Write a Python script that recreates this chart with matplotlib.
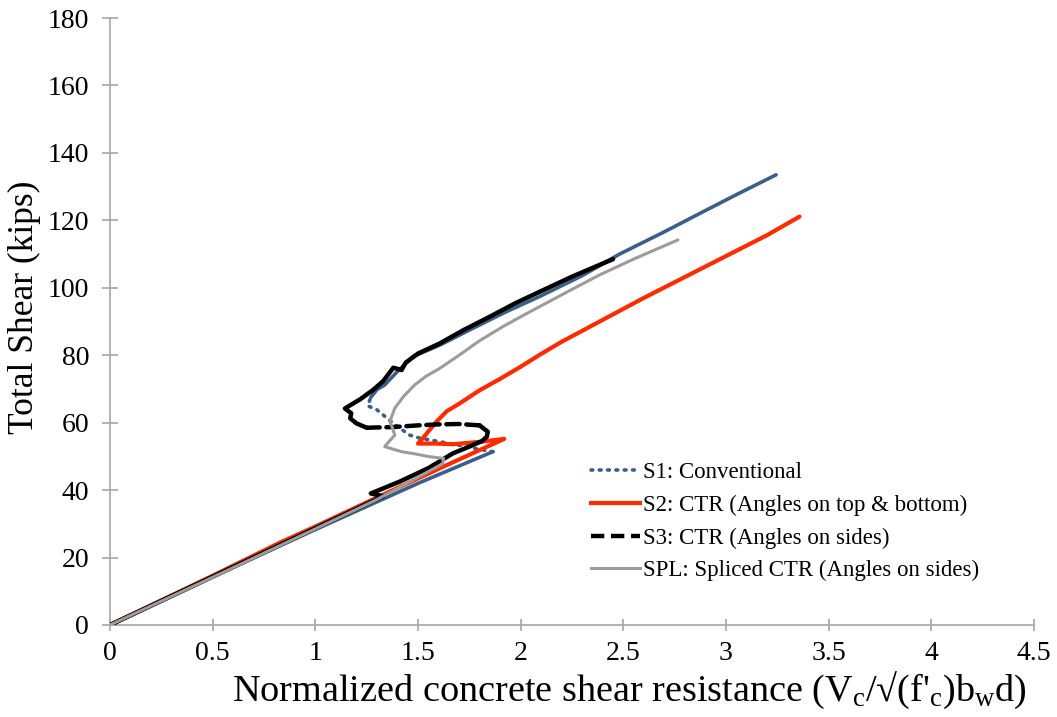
import matplotlib
matplotlib.use("Agg")
import matplotlib.pyplot as plt
from matplotlib.lines import Line2D

plt.rcParams['font.family'] = ['Liberation Serif', 'DejaVu Serif']
plt.rcParams['mathtext.fontset'] = 'custom'
plt.rcParams['mathtext.rm'] = 'Liberation Serif'
plt.rcParams['mathtext.it'] = 'Liberation Serif:italic'

# S1: Conventional
s1_x = [0, 0.5, 1.0, 1.5, 1.865,
        1.78, 1.71, 1.62, 1.51, 1.46, 1.39, 1.34, 1.30, 1.255,
        1.27, 1.30, 1.338, 1.40, 1.476, 1.606, 1.768, 1.93, 2.092, 2.30,
        2.482, 2.70, 2.871, 3.05, 3.244]
s1_y = [0, 14.3, 28.3, 42.0, 51.4,
        52.3, 53.2, 54.2, 55.4, 56.3, 59.3, 61.8, 63.8, 65.0,
        67.5, 69.8, 71.2, 75.2, 79.6, 83.0, 88.0, 92.9, 97.4, 103.6,
        110.0, 116.6, 122.0, 127.6, 133.5]
s1_jump = (4, 14)  # sparse span between the two branches

# S2: CTR (Angles on top & bottom)
s2_x = [0, 0.5, 0.83, 1.0, 1.3, 1.6, 1.92,
        1.80, 1.67, 1.58, 1.50,
        1.525, 1.549, 1.59, 1.64, 1.70, 1.80, 1.90, 2.00, 2.10, 2.20,
        2.40, 2.60, 2.80, 3.00, 3.20, 3.358]
s2_y = [0, 14.6, 24.5, 29.2, 37.8, 46.3, 55.2,
        54.3, 53.6, 53.8, 53.8,
        55.5, 57.3, 60.3, 63.4, 65.6, 69.6, 73.0, 76.6, 80.4, 84.0,
        90.5, 97.0, 103.2, 109.4, 115.6, 121.1]

# S3: CTR (Angles on sides)
s3_x = [0, 0.6, 1.0, 1.33, 1.27, 1.41, 1.55, 1.67, 1.75, 1.81, 1.835,
        1.84, 1.80, 1.70, 1.60, 1.50, 1.38, 1.25,
        1.20, 1.17, 1.175, 1.144, 1.16, 1.22, 1.281, 1.33, 1.38, 1.42,
        1.44, 1.50, 1.606, 1.72, 1.849, 1.97, 2.092, 2.25, 2.45]
s3_y = [0, 17.2, 28.7, 38.2, 39.0, 42.5, 46.5, 50.9, 52.9, 54.5, 55.8,
        57.3, 59.2, 59.6, 59.5, 59.2, 58.7, 58.5,
        59.8, 61.3, 62.8, 64.2, 64.8, 67.0, 69.7, 72.3, 76.3, 75.6,
        77.8, 80.5, 83.5, 87.4, 91.4, 95.3, 98.8, 103.3, 108.5]
s3_jump = (12, 17)

# SPL: Spliced CTR (Angles on sides)
spl_x = [0, 0.6, 1.0, 1.3, 1.62, 1.625, 1.557, 1.48, 1.419, 1.338,
         1.36, 1.387, 1.375, 1.363, 1.375, 1.387, 1.43, 1.484, 1.54,
         1.606, 1.70, 1.80, 1.914, 2.00, 2.092, 2.24, 2.384, 2.55, 2.766]
spl_y = [0, 17.0, 28.5, 37.2, 47.8, 49.4, 49.9, 50.8, 51.4, 52.9,
         54.5, 56.3, 58.5, 60.3, 62.3, 64.3, 67.8, 71.2, 73.8,
         76.1, 80.0, 84.3, 88.5, 91.4, 94.4, 99.2, 103.8, 108.5, 114.2]

x_ticks = [0, 0.5, 1, 1.5, 2, 2.5, 3, 3.5, 4, 4.5]
x_tick_labels = ['0', '0.5', '1', '1.5', '2', '2.5', '3', '3.5', '4', '4.5']
y_ticks = [0, 20, 40, 60, 80, 100, 120, 140, 160, 180]

labels = ['S1: Conventional',
          'S2: CTR (Angles on top & bottom)',
          'S3: CTR (Angles on sides)',
          'SPL: Spliced CTR (Angles on sides)']
c_s1, c_s2, c_s3, c_spl = '#3A5F8B', '#FF2A00', '#000000', '#9C9C9C'
lw_s1, lw_s2, lw_s3, lw_spl = 2.6, 3.0, 3.2, 2.2
dot_style = (0, (0.5, 1.8))
dash_style = (0, (3.0, 1.5))

fig = plt.figure(figsize=(10.57, 7.17), dpi=100)
ax = fig.add_axes([110 / 1057, 1 - 625 / 717, (1034 - 110) / 1057, (625 - 18) / 717])


def split_plot(xs, ys, span, color, lw, sparse_ls, z):
    a, b = span
    ax.plot(xs[:a + 1], ys[:a + 1], color=color, lw=lw,
            solid_capstyle='round', solid_joinstyle='round', zorder=z)
    ax.plot(xs[a:b + 1], ys[a:b + 1], color=color, lw=lw, ls=sparse_ls,
            dash_capstyle='round', zorder=z)
    ax.plot(xs[b:], ys[b:], color=color, lw=lw,
            solid_capstyle='round', solid_joinstyle='round', zorder=z)


split_plot(s1_x, s1_y, s1_jump, c_s1, lw_s1, dot_style, 2)
ax.plot(s2_x, s2_y, color=c_s2, lw=lw_s2, solid_capstyle='round',
        solid_joinstyle='round', zorder=3)
split_plot(s3_x, s3_y, s3_jump, c_s3, lw_s3, dash_style, 4)
ax.plot(spl_x, spl_y, color=c_spl, lw=lw_spl, solid_capstyle='round',
        solid_joinstyle='round', zorder=5)

ax.set_xlim(0, 4.5)
ax.set_ylim(0, 180)
ax.set_xticks(x_ticks)
ax.set_xticklabels(x_tick_labels)
ax.set_yticks(y_ticks)

for side in ('top', 'right'):
    ax.spines[side].set_visible(False)
for side in ('left', 'bottom'):
    ax.spines[side].set_color('#A6A6A6')
    ax.spines[side].set_linewidth(1.2)

ax.tick_params(axis='y', direction='inout', length=12, width=1.2,
               color='#A6A6A6', labelsize=20, pad=9)
ax.tick_params(axis='x', direction='inout', length=9, width=1.2,
               color='#A6A6A6', labelsize=20, pad=7)

ax.set_ylabel('Total Shear (kips)', fontsize=25.5, labelpad=3)
ax.yaxis.set_label_coords(24 / 1057, 1 - 307 / 717, transform=fig.transFigure)
ax.set_xlabel("Normalized concrete shear resistance "
              "(V$_\\mathrm{c}$/\u221a(f'$_\\mathrm{c}$)b$_\\mathrm{w}$d)",
              fontsize=27.5)
ax.xaxis.set_label_coords(629 / 1057, 1 - 690 / 717, transform=fig.transFigure)
ax.xaxis.label.set_va('center')
ax.yaxis.label.set_va('center')

handles = [
    Line2D([], [], color=c_s1, lw=lw_s1, ls=dot_style, dash_capstyle='round'),
    Line2D([], [], color=c_s2, lw=lw_s2),
    Line2D([], [], color=c_s3, lw=lw_s3, ls=dash_style),
    Line2D([], [], color=c_spl, lw=lw_spl),
]
fig.legend(handles, labels, loc='upper left',
           bbox_to_anchor=(580 / 1057, 1 - 451 / 717), frameon=False,
           fontsize=16.5, handlelength=2.1, handletextpad=0.15,
           labelspacing=0.5, borderpad=0)

fig.savefig('out.png', dpi=100)
